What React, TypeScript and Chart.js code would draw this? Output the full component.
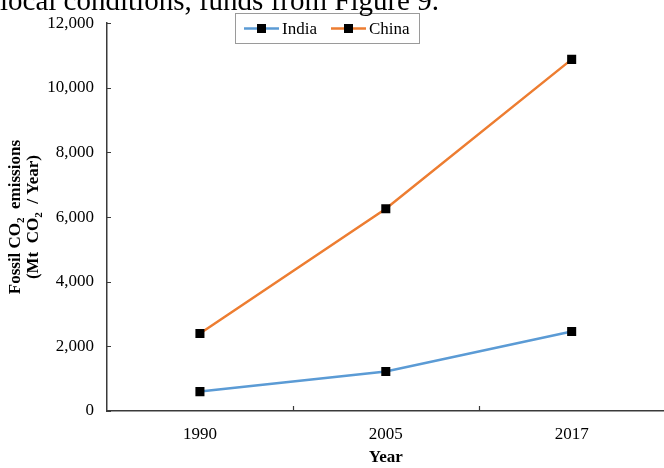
import React, { useEffect, useRef } from "react";
import { Chart, registerables } from "chart.js";

Chart.register(...registerables);

const categories = ["1990", "2005", "2017"];
const indiaValues = [600, 1220, 2460];
const chinaValues = [2400, 6260, 10880];
const seriesNames = ["India", "China"];
const seriesColors = ["#5B9BD5", "#ED7D31"];
const yTitleLine1 = ["Fossil CO", "2", "  emissions"];
const yTitleLine2 = ["(Mt  CO", "2", "  / Year)"];
const xTitle = "Year";
const topText = "local conditions, funds from Figure 9.";

const SERIF = "'Liberation Serif', 'Times New Roman', serif";
const AXIS_COLOR = "#3a3a3a";

const fmt = (v: number) => v.toLocaleString("en-US");

const decorPlugin = {
  id: "decor",
  afterDraw(chart: any) {
    const ctx = chart.ctx as CanvasRenderingContext2D;
    const area = chart.chartArea;
    const x = chart.scales.x;
    const y = chart.scales.y;
    ctx.save();
    // inward ticks
    ctx.strokeStyle = AXIS_COLOR;
    ctx.lineWidth = 1.2;
    ctx.beginPath();
    y.ticks.forEach((t: any) => {
      const py = Math.round(y.getPixelForValue(t.value)) + 0.5;
      ctx.moveTo(area.left, py);
      ctx.lineTo(area.left + 4, py);
    });
    for (let i = 0; i < categories.length - 1; i++) {
      const px = Math.round((x.getPixelForValue(i) + x.getPixelForValue(i + 1)) / 2) + 0.5;
      ctx.moveTo(px, area.bottom);
      ctx.lineTo(px, area.bottom - 5);
    }
    ctx.stroke();

    // y title (two lines, rotated, with subscripts)
    const drawRich = (parts: string[], cx: number, cy: number) => {
      const big = "bold 17px " + SERIF;
      const small = "bold 11px " + SERIF;
      ctx.font = big;
      const w0 = ctx.measureText(parts[0]).width;
      const w2 = ctx.measureText(parts[2]).width;
      ctx.font = small;
      const w1 = ctx.measureText(parts[1]).width;
      const total = w0 + w1 + w2;
      ctx.save();
      ctx.translate(cx, cy);
      ctx.rotate(-Math.PI / 2);
      ctx.fillStyle = "#000";
      ctx.textBaseline = "middle";
      ctx.textAlign = "left";
      let sx = -total / 2;
      ctx.font = big;
      ctx.fillText(parts[0], sx, 0);
      sx += w0;
      ctx.font = small;
      ctx.fillText(parts[1], sx, 5);
      sx += w1;
      ctx.font = big;
      ctx.fillText(parts[2], sx, 0);
      ctx.restore();
    };
    const midY = (area.top + area.bottom) / 2;
    drawRich(yTitleLine1, 16, midY);
    drawRich(yTitleLine2, 34, midY);

    // legend
    const lx = 235, ly = 13, lw = 184, lh = 30;
    ctx.fillStyle = "#fff";
    ctx.fillRect(lx, ly, lw, lh);
    ctx.strokeStyle = "#9a9a9a";
    ctx.lineWidth = 1;
    ctx.strokeRect(lx + 0.5, ly + 0.5, lw, lh);
    const cy = ly + lh / 2 + 0.5;
    const starts = [244, 331];
    chart.data.datasets.forEach((ds: any, i: number) => {
      const sx = starts[i];
      ctx.strokeStyle = ds.borderColor;
      ctx.lineWidth = 2.5;
      ctx.beginPath();
      ctx.moveTo(sx, cy);
      ctx.lineTo(sx + 35, cy);
      ctx.stroke();
      ctx.fillStyle = "#000";
      ctx.fillRect(sx + 17.5 - 4.5, cy - 4.5, 9, 9);
      ctx.font = "17px " + SERIF;
      ctx.textBaseline = "middle";
      ctx.textAlign = "left";
      ctx.fillText(ds.label, sx + 38, cy + 1);
    });
    ctx.restore();
  },
};

export default function App() {
  const ref = useRef<HTMLCanvasElement | null>(null);
  useEffect(() => {
    if (!ref.current) return;
    const chart = new Chart(ref.current, {
      type: "line",
      data: {
        labels: categories,
        datasets: [
          {
            label: seriesNames[0],
            data: indiaValues,
            borderColor: seriesColors[0],
            backgroundColor: seriesColors[0],
            borderWidth: 2.5,
            pointStyle: "rect",
            pointRadius: 6.4,
            pointBorderWidth: 0,
            pointBackgroundColor: "#000",
            pointBorderColor: "#000",
            tension: 0,
          },
          {
            label: seriesNames[1],
            data: chinaValues,
            borderColor: seriesColors[1],
            backgroundColor: seriesColors[1],
            borderWidth: 2.5,
            pointStyle: "rect",
            pointRadius: 6.4,
            pointBorderWidth: 0,
            pointBackgroundColor: "#000",
            pointBorderColor: "#000",
            tension: 0,
          },
        ],
      },
      options: {
        animation: false,
        responsive: false,
        layout: { padding: { left: 0, right: 0, top: 16, bottom: 0 } },
        plugins: {
          legend: { display: false },
          tooltip: { enabled: false },
        },
        scales: {
          x: {
            type: "category",
            offset: true,
            grid: { display: false, offset: true, drawTicks: false },
            border: { display: true, color: AXIS_COLOR, width: 1.5 },
            ticks: {
              color: "#000",
              font: { family: SERIF, size: 17 },
              padding: 13,
              maxRotation: 0,
            },
            title: {
              display: true,
              text: xTitle,
              color: "#000",
              font: { family: SERIF, size: 17, weight: "bold" },
              padding: { top: 0, bottom: 0 },
            },
            afterFit: (s: any) => {
              s.height = 57;
              s.paddingLeft = 0;
              s.paddingRight = 0;
            },
          },
          y: {
            min: 0,
            max: 12000,
            ticks: {
              stepSize: 2000,
              color: "#000",
              font: { family: SERIF, size: 17 },
              padding: 13,
              callback: (v: any) => fmt(Number(v)),
            },
            grid: { display: false, drawTicks: false },
            border: { display: true, color: AXIS_COLOR, width: 1.5 },
            afterFit: (s: any) => {
              s.width = 107;
            },
          },
        },
      },
      plugins: [decorPlugin],
    });
    return () => chart.destroy();
  }, []);

  return (
    <div style={{ position: "absolute", left: 0, top: 0, width: 664, height: 468, overflow: "hidden", background: "#fff" }}>
      <canvas ref={ref} width={671} height={468} style={{ position: "absolute", left: 0, top: 0 }} />
      <div
        style={{
          position: "absolute",
          left: 0,
          top: -14,
          fontFamily: SERIF,
          fontSize: 29,
          lineHeight: "29px",
          whiteSpace: "nowrap",
          color: "#000",
        }}
      >
        {topText}
      </div>
    </div>
  );
}
